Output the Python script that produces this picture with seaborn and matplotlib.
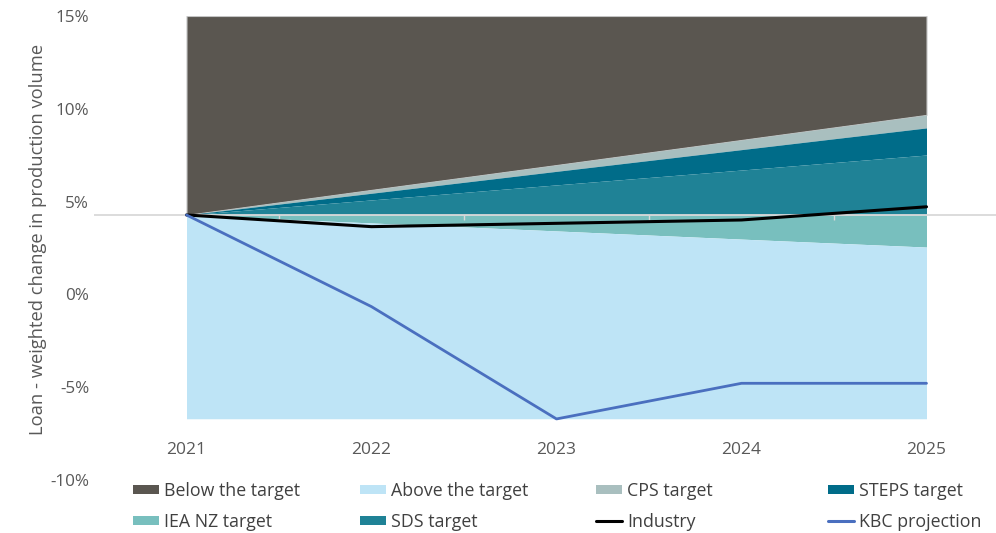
import numpy as np
import matplotlib
matplotlib.use("Agg")
import matplotlib.pyplot as plt
from matplotlib.patches import Patch
from matplotlib.lines import Line2D
from matplotlib.transforms import blended_transform_factory
import seaborn as sns

years = ["2021", "2022", "2023", "2024", "2025"]

# Upper/lower edges of each band (% change in production volume)
chart_top = [15.0, 15.0, 15.0, 15.0, 15.0]
cps_target = [4.28, 5.63, 6.97, 8.32, 9.67]
steps_target = [4.28, 5.45, 6.63, 7.80, 8.97]
sds_target = [4.28, 5.09, 5.90, 6.70, 7.51]
baseline = [4.28, 4.28, 4.28, 4.28, 4.28]
iea_nz_target = [4.28, 3.85, 3.42, 2.98, 2.55]
chart_bottom = [-6.7, -6.7, -6.7, -6.7, -6.7]

industry = [4.28, 3.65, 3.83, 4.01, 4.72]
kbc_projection = [4.28, -0.66, -6.71, -4.79, -4.79]

y_ticks = [-10, -5, 0, 5, 10, 15]
y_tick_labels = ["-10%", "-5%", "0%", "5%", "10%", "15%"]

legend_columns = [
    [("Below the target", "patch", "#5a5650"), ("IEA NZ target", "patch", "#78bfbe")],
    [("Above the target", "patch", "#bee4f6"), ("SDS target", "patch", "#1f8296")],
    [("CPS target", "patch", "#a9bfbf"), ("Industry", "line", "#000000")],
    [("STEPS target", "patch", "#006c89"), ("KBC projection", "line", "#4a6fbf")],
]

sns.set_theme(style="white")
plt.rcParams["font.family"] = ["Open Sans", "DejaVu Sans"]
TEXT = "#595959"
FS = 12.8

fig = plt.figure(figsize=(9.96, 5.33), dpi=100)
ax = fig.add_axes([94 / 996, 53 / 533, 925 / 996, 464 / 533])
x = np.arange(len(years))

# stacked bands, top to bottom
ax.fill_between(x, cps_target, chart_top, color="#5a5650", edgecolor="#c4c4c4",
                linewidth=0.8, zorder=1)
ax.fill_between(x, steps_target, cps_target, color="#a9bfbf", linewidth=0, zorder=1)
ax.fill_between(x, sds_target, steps_target, color="#006c89", linewidth=0, zorder=1)
ax.fill_between(x, baseline, sds_target, color="#1f8296", linewidth=0, zorder=1)
ax.fill_between(x, iea_nz_target, baseline, color="#78bfbe", linewidth=0, zorder=1)
ax.fill_between(x, chart_bottom, iea_nz_target, color="#bee4f6", linewidth=0, zorder=1)

# horizontal category axis with small ticks between categories
ax.axhline(baseline[0], color="#d9d9d9", lw=1.3, zorder=3)
ax.vlines(x[:-1] + 0.5, baseline[0] - 0.27, baseline[0], color="#d9d9d9", lw=1.0, zorder=3)

sns.lineplot(x=x, y=industry, color="black", lw=2.2, ax=ax, zorder=5, legend=False)
sns.lineplot(x=x, y=kbc_projection, color="#4a6fbf", lw=2.0, ax=ax, zorder=5, legend=False)

ax.set_xlim(-0.5, len(years) - 0.5)
ax.set_ylim(-10, 15)
ax.set_yticks(y_ticks)
ax.set_yticklabels(y_tick_labels)
ax.tick_params(axis="y", length=0, pad=3.5, labelsize=12.3, labelcolor=TEXT)
ax.set_xticks([])
ax.set_xlabel("")
ax.set_ylabel("")
for s in ax.spines.values():
    s.set_visible(False)

trans = blended_transform_factory(ax.transData, ax.transAxes)
for i, yr in enumerate(years):
    ax.text(i, 30 / 464, yr, transform=trans, ha="center", va="center",
            fontsize=12.5, color=TEXT)

fig.text(38 / 996, 1 - 239 / 533, "Loan - weighted change in production volume",
         rotation=90, ha="center", va="center", fontsize=13.2, color=TEXT)

col_x = [133, 360, 596, 828]
for cx, entries in zip(col_x, legend_columns):
    handles, labels = [], []
    for label, kind, color in entries:
        if kind == "patch":
            handles.append(Patch(facecolor=color, edgecolor="none"))
        else:
            handles.append(Line2D([0], [0], color=color, lw=2.2))
        labels.append(label)
    fig.legend(handles, labels, loc="upper left", bbox_to_anchor=(cx / 996, 1 - 482 / 533),
               frameon=False, fontsize=FS, labelcolor="#404040", borderpad=0,
               borderaxespad=0, handlelength=1.45, handleheight=0.45,
               handletextpad=0.3, labelspacing=0.72)

fig.savefig("out.png", dpi=100)
